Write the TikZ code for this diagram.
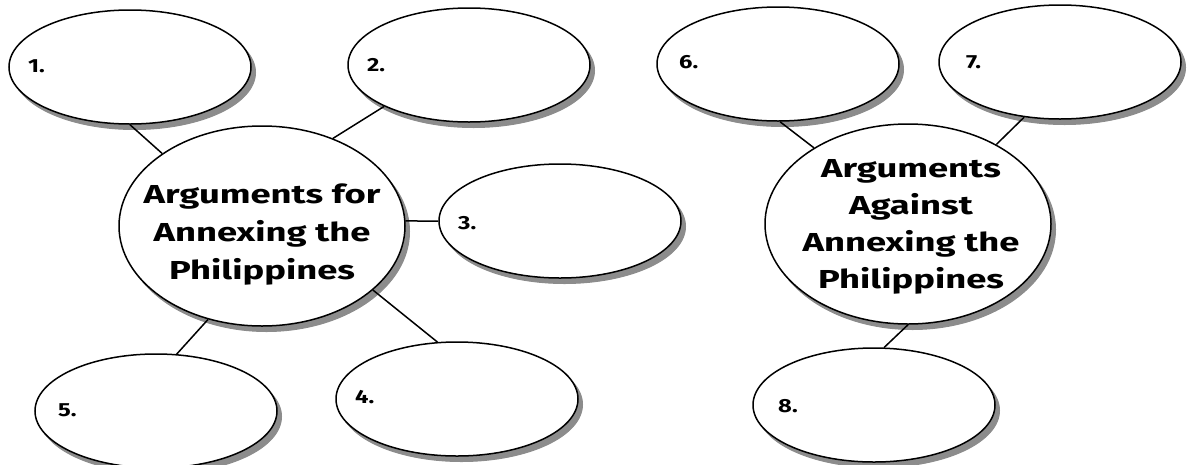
\documentclass[tikz,border=0pt]{standalone}
\usepackage{fontspec}
\setmainfont{Fira Sans}
\newfontfamily\widebold{Fira Sans}[FakeStretch=1.4]
\newfontfamily\numbold{Fira Sans}[FakeStretch=1.25]
\usetikzlibrary{shapes.geometric}

\tikzset{
  bubble/.style={ellipse, draw, line width=1.5pt, fill=white, inner sep=0pt,
    minimum width=242pt, minimum height=114pt},
  hub/.style={bubble, minimum width=286pt, minimum height=200pt},
  shadowfill/.style={fill=black!45, draw=black!45, line width=1pt},
  link/.style={line width=1.5pt},
  num/.style={anchor=base west, inner sep=0pt,
    font=\numbold\bfseries\fontsize{19}{19}\selectfont},
  title/.style={anchor=base, inner sep=0pt, align=center}
}

\begin{document}
\begin{tikzpicture}[x=1pt, y=-1pt]
\useasboundingbox (0,0) rectangle (1189,464);

% drop shadows, drawn first so the bubbles sit on top of them
\foreach \cx/\cy in {130/67,469/65,560/221,457/399,156/411,778/64,1060/62,874/405}
  \path[shadowfill] (\cx+4.5,\cy+5.5) ellipse [x radius=121, y radius=57];
\foreach \cx/\cy in {262/226,908/224}
  \path[shadowfill] (\cx+4.5,\cy+5.5) ellipse [x radius=143, y radius=100];

% left cluster: arguments for annexation
\node[bubble] (e1) at (130,67) {};
\node[bubble] (e2) at (469,65) {};
\node[hub]    (hubA) at (262,226) {};
\node[bubble] (e3) at (560,221) {};
\node[bubble] (e4) at (457,399) {};
\node[bubble] (e5) at (156,411) {};

% right cluster: arguments against annexation
\node[bubble] (e6) at (778,64) {};
\node[bubble] (e7) at (1060,62) {};
\node[hub]    (hubB) at (908,224) {};
\node[bubble] (e8) at (874,405) {};

% titles (anchored on the baseline of the last line)
\node[title, font=\widebold\bfseries\fontsize{26}{38}\selectfont] (tA) at (262,279)
  {Arguments for\\Annexing the\\Philippines};
\node[title, font=\widebold\bfseries\fontsize{26}{37}\selectfont] (tB) at (911,288)
  {Arguments\\Against\\Annexing the\\Philippines};

% numbered answer slots
\node[num] (n1) at (28,72) {1.};
\node[num] (n2) at (367,71) {2.};
\node[num] (n3) at (458,229) {3.};
\node[num] (n4) at (355,403) {4.};
\node[num] (n5) at (58,416) {5.};
\node[num] (n6) at (679,68) {6.};
\node[num] (n7) at (966,68) {7.};
\node[num] (n8) at (778,412) {8.};

% spokes
\draw[link] (e1.-90)   -- (hubA.144);
\draw[link] (e2.206)   -- (hubA.51);
\draw[link] (hubA.2)   -- (e3.180);
\draw[link] (hubA.-30) -- (e4.109);
\draw[link] (hubA.-120) -- (e5.70);
\draw[link] (e6.-88)   -- (hubB.141);
\draw[link] (e7.-123)  -- (hubB.42);
\draw[link] (hubB.-90) -- (e8.80);
\end{tikzpicture}
\end{document}
